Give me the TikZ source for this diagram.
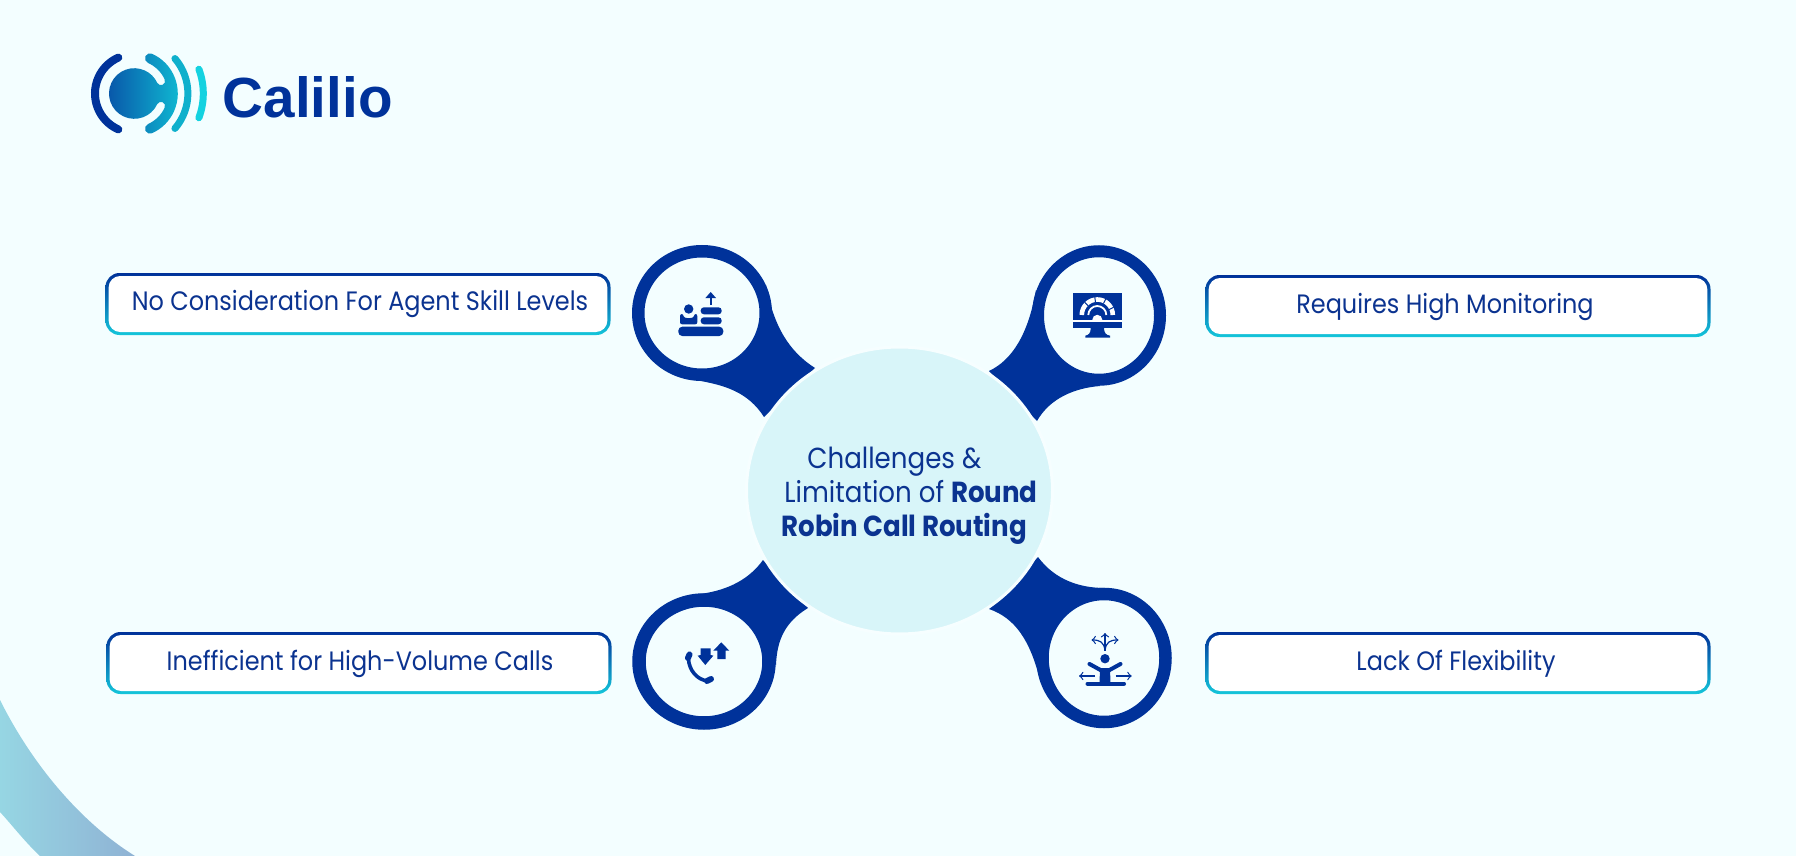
\documentclass[tikz,border=0pt]{standalone}
\usepackage{fontspec}
\setmainfont{Poppins}[FakeStretch=0.9]
\newfontfamily\logofont{Liberation Sans}
\usetikzlibrary{shapes.geometric}
\definecolor{pagebg}{HTML}{F3FEFF}
\definecolor{hubfill}{HTML}{D8F5F9}
\definecolor{hubedge}{HTML}{F6FEFF}
\definecolor{pinblue}{HTML}{00329A}
\definecolor{inkblue}{HTML}{0B3390}
\definecolor{rimcyan}{HTML}{14C6DA}
\definecolor{swooshleft}{HTML}{96D6E3}
\definecolor{swooshright}{HTML}{8FB2D4}
\definecolor{logodisk}{HTML}{0854A8}
\definecolor{logoring}{HTML}{10BED4}
\definecolor{logoarcb}{HTML}{0EB0CC}
\definecolor{logoarcc}{HTML}{14D2E0}
\tikzset{
  pinring/.style={ellipse, draw=pinblue, fill=pagebg, inner sep=0pt},
  boxrim/.style={rectangle, rounded corners=7pt, top color=pinblue, bottom color=rimcyan,
    minimum width=252.5pt, minimum height=31pt, inner sep=0pt},
  boxface/.style={rectangle, rounded corners=5.8pt, fill=white, minimum width=249.4pt, minimum height=28pt, inner sep=0pt},
  boxtext/.style={text=inkblue, font=\fontsize{13.3}{15}\selectfont, inner sep=0pt},
  iconfill/.style={fill=pinblue, draw=none},
  iconbar/.style={draw=pinblue, line cap=round},
}
\begin{document}
\begin{tikzpicture}[x=0.5pt, y=-0.5pt]
\fill[pagebg, use as bounding box] (0,0) rectangle (1796,856);
% corner swoosh
\shade[left color=swooshleft, right color=swooshright]
  (0,700) .. controls (35,770) and (85,825) .. (135,856) -- (40,856) .. controls (25,842) and (12,825) .. (0,812) -- cycle;
% logo
\begin{scope}[shift={(134.3,93.5)}]
\draw[pinblue, line width=4pt, line cap=round] (114:39.3) arc[start angle=114, end angle=246, radius=39.3];
\draw[logoarcb, line width=3.5pt, line cap=round] (-40.7:53.6) arc[start angle=-40.7, end angle=40.7, radius=53.6];
\draw[logoarcc, line width=3.5pt, line cap=round] (-20.6:69) arc[start angle=-20.6, end angle=20.6, radius=69];
\shade[left color=logodisk, right color=logoring]
  (-66:43.5) arc[start angle=-66, end angle=66, radius=43.5]
  arc[start angle=66, end angle=246, radius=5]
  arc[start angle=66, end angle=25, radius=33.5]
  arc[start angle=25, end angle=-155, radius=4.1]
  arc[start angle=25, end angle=335, radius=25.3]
  arc[start angle=155, end angle=-25, radius=4.1]
  arc[start angle=-25, end angle=-66, radius=33.5]
  arc[start angle=114, end angle=294, radius=5] -- cycle;
\end{scope}
\node[anchor=base west, inner sep=0pt, text=pinblue, font=\logofont\bfseries\fontsize{28.3}{30}\selectfont] (logoname) at (222.5,117.5) {Calilio};
% stems of the four pins
\fill[pinblue] (766,285) .. controls (774,328) and (790,352) .. (815,368) -- (764,417) .. controls (748,392) and (725,385) .. (695,380) -- cycle;
\fill[pinblue] (1036,290) .. controls (1028,335) and (1012,360) .. (989,371) -- (1037,421) .. controls (1050,398) and (1075,388) .. (1100,386) -- cycle;
\fill[pinblue] (700,594) .. controls (730,590) and (750,578) .. (763,560) -- (808,608) .. controls (785,622) and (777,640) .. (776,665) -- cycle;
\fill[pinblue] (1105,588) .. controls (1080,588) and (1055,580) .. (1038,557) -- (989,609) .. controls (1015,618) and (1030,640) .. (1040,680) -- cycle;
% pins
\node[pinring, line width=6.25pt, minimum width=63.75pt, minimum height=61.75pt] (pinskill) at (702,313) {};
\node[pinring, line width=6pt, minimum width=61pt, minimum height=64.25pt] (pinmonitor) at (1099,315.5) {};
\node[pinring, line width=6.75pt, minimum width=65pt, minimum height=61.5pt] (pinvolume) at (704,661.5) {};
\node[pinring, line width=6.25pt, minimum width=61.5pt, minimum height=64pt] (pinflex) at (1104,658) {};
% hub
\node[ellipse, fill=hubfill, draw=hubedge, line width=1.5pt, minimum width=153pt, minimum height=143.5pt, inner sep=0pt] (hub) at (899.5,490.5) {};
\node[anchor=west, align=left, inner sep=0pt, text=inkblue, font=\fontsize{14.5}{17}\selectfont] (hubtext) at (781,496)
  {\hspace*{13pt}Challenges \&\\\hspace*{1.5pt}Limitation of \textbf{Round}\\\textbf{Robin Call Routing}};
% boxes
\node[boxrim] (rimskill) at (358,304) {};
\node[boxface] (faceskill) at (rimskill) {};
\node[boxtext] (textskill) at (360,304) {No Consideration For Agent Skill Levels};
\node[boxrim] (rimmonitor) at (1458,306) {};
\node[boxface] (facemonitor) at (rimmonitor) {};
\node[boxtext] (textmonitor) at (1445,307) {Requires High Monitoring};
\node[boxrim] (rimvolume) at (359,663) {};
\node[boxface] (facevolume) at (rimvolume) {};
\node[boxtext] (textvolume) at (360,664) {Inefficient for High-Volume Calls};
\node[boxrim] (rimflex) at (1458,663) {};
\node[boxface] (faceflex) at (rimflex) {};
\node[boxtext] (textflex) at (1456,664) {Lack Of Flexibility};
% icon: person and stacked bars
\fill[iconfill, rounded corners=2pt] (678.3,326.7) rectangle (723.3,336);
\fill[iconfill, rounded corners=1.6pt] (700.7,307.3) rectangle (721.7,314.3);
\fill[iconfill, rounded corners=1.6pt] (700.7,317.3) rectangle (721.7,324.3);
\draw[pinblue, line width=1.1pt] (710.7,305) -- (710.7,296);
\fill[iconfill] (710.7,292) -- (716,298) -- (705.4,298) -- cycle;
\fill[iconfill] (688.7,309) circle[radius=4.7];
\fill[iconfill, rounded corners=1pt] (680,314) -- (680,324.3) -- (697.3,324.3) -- (697.3,314) -- (694,314) .. controls (694,319) and (683.5,319) .. (683.5,314) -- cycle;
% icon: monitor with gauge
\fill[iconfill] (1073,293) rectangle (1122,328.3);
\fill[iconfill] (1090.7,328) -- (1104,328) .. controls (1104,333) and (1106,335) .. (1110,335.7) -- (1110,337.7) -- (1085.3,337.7) -- (1085.3,335.7) .. controls (1089,335) and (1090.7,333) .. (1090.7,328) -- cycle;
\fill[white] (1073,320) rectangle (1122,322.3);
\draw[white, line width=2.3pt] (1081.8,315) arc[start angle=180, end angle=360, radius=15.5];
\draw[white, line width=0.9pt] (1088.3,315) arc[start angle=180, end angle=360, radius=9];
\fill[white] (1092.3,319.8) arc[start angle=180, end angle=360, radius=5] -- cycle;
\draw[pinblue, line width=0.5pt] (1097.3,315)+(225:13) -- +(225:18);
\draw[pinblue, line width=0.5pt] (1097.3,315)+(262:13) -- +(262:18);
\draw[pinblue, line width=0.5pt] (1097.3,315)+(298:13) -- +(298:18);
\draw[pinblue, line width=0.5pt] (1097.3,315)+(335:13) -- +(335:18);
% icon: handset with two arrows
\draw[pinblue, line width=1.8pt] (688.5,659) .. controls (689,670) and (697,680) .. (708,681);
\draw[pinblue, line width=3pt, line cap=round] (688,658) -- (689.5,654.5);
\draw[pinblue, line width=3pt, line cap=round] (707,681) -- (711,679);
\fill[iconfill] (700.7,648.3) -- (710.7,648.3) -- (710.7,655) -- (713.3,655.7) -- (705.3,665) -- (697.7,655.7) -- (700.7,655) -- cycle;
\fill[iconfill] (721.3,642.3) -- (729.3,650.7) -- (725.7,650.7) -- (725.7,659) -- (717.3,659) -- (717.3,650.7) -- (713.3,650.7) -- cycle;
% icon: person with arrows
\fill[iconfill] (1105,658.7) circle[radius=4.7];
\draw[iconbar, line width=2pt, line join=round] (1089.5,664) -- (1105,672.5) -- (1120.5,664);
\fill[iconfill] (1100,668) -- (1110,668) -- (1110.5,684) -- (1099.5,684) -- cycle;
\draw[iconbar, line width=2pt] (1087.5,683.7) -- (1124,683.7);
\draw[pinblue, line width=0.6pt, ->] (1095,676) -- (1079,676);
\draw[pinblue, line width=0.6pt, ->] (1115.7,676) -- (1131.7,676);
\draw[pinblue, line width=0.6pt, ->] (1105,650.7) -- (1105,633);
\draw[pinblue, line width=0.6pt, ->] (1105,650.7) .. controls (1104,642) and (1100,640) .. (1091.5,640);
\draw[pinblue, line width=0.6pt, ->] (1105,650.7) .. controls (1106,642) and (1110,640) .. (1118.5,640);
\end{tikzpicture}
\end{document}
